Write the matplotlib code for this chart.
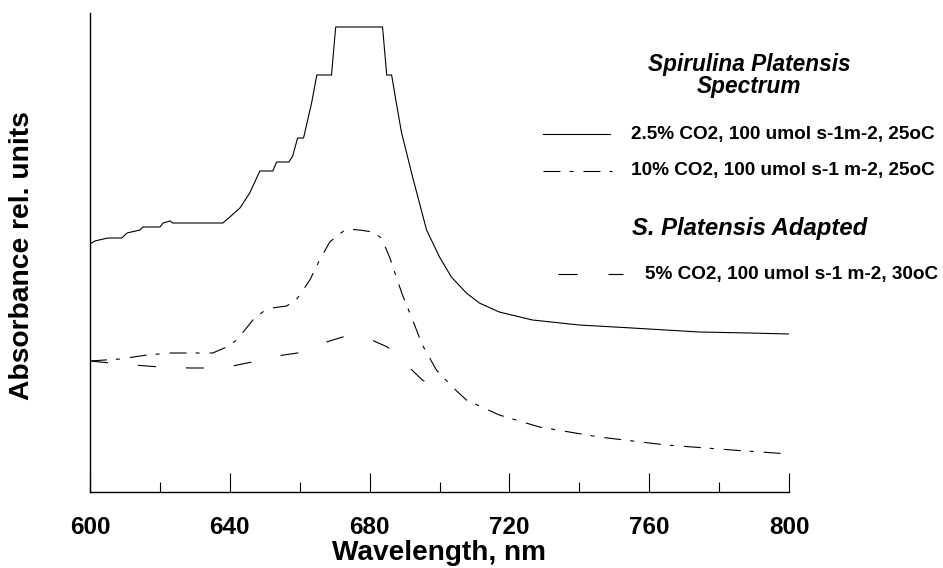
import matplotlib
matplotlib.use("Agg")
import matplotlib.pyplot as plt
from matplotlib.lines import Line2D
from matplotlib.ticker import MultipleLocator

plt.rcParams['font.family'] = ['Liberation Sans', 'DejaVu Sans']
plt.rcParams['font.weight'] = 'bold'
plt.rcParams['lines.scale_dashes'] = False

# 2.5% CO2 spectrum (solid)
wl_25 = [600.0, 601.4, 605.1, 609.1, 610.6, 614.3, 615.1, 620.0, 620.9, 622.9, 623.7,
         638.0, 640.0, 642.9, 645.7, 648.6, 652.3, 653.4, 656.9, 658.0, 659.4, 661.1,
         663.4, 664.9, 669.1, 670.3, 683.7, 684.9, 686.3, 687.7, 689.1, 692.3, 696.3,
         700.0, 703.4, 707.7, 711.4, 717.1, 726.6, 740.0, 755.1, 774.3, 788.6, 800.0]
abs_25 = [2.47, 2.50, 2.53, 2.53, 2.58, 2.61, 2.64, 2.64, 2.68, 2.70, 2.68,
          2.68, 2.74, 2.83, 2.98, 3.20, 3.20, 3.29, 3.29, 3.35, 3.53, 3.53,
          3.88, 4.16, 4.16, 4.64, 4.64, 4.16, 4.16, 3.87, 3.59, 3.14, 2.61,
          2.34, 2.14, 1.98, 1.88, 1.79, 1.71, 1.66, 1.63, 1.59, 1.58, 1.57]

# 10% CO2 spectrum (dash-dot)
wl_10 = [600.0, 608.6, 616.3, 622.9, 635.1, 639.1, 642.0, 646.6, 649.4, 652.0, 656.3,
         659.4, 662.9, 665.7, 668.6, 671.4, 673.4, 677.1, 680.9, 683.4, 685.7, 689.4,
         692.3, 695.1, 699.1, 703.7, 707.7, 717.1, 728.6, 745.7, 764.9, 783.7, 800.0]
abs_10 = [1.30, 1.32, 1.36, 1.38, 1.38, 1.44, 1.51, 1.71, 1.79, 1.83, 1.85,
          1.93, 2.11, 2.31, 2.49, 2.57, 2.62, 2.61, 2.59, 2.53, 2.34, 1.96,
          1.71, 1.46, 1.21, 1.04, 0.91, 0.76, 0.64, 0.54, 0.46, 0.41, 0.37]

# adapted 5% CO2 spectrum (dashed)
wl_5 = [600.0, 608.6, 620.0, 628.6, 638.0, 646.3, 651.4, 659.4, 664.9, 672.3, 678.0,
        680.6, 685.1, 689.1, 695.1, 699.4]
abs_5 = [1.30, 1.27, 1.24, 1.23, 1.23, 1.29, 1.34, 1.38, 1.46, 1.54, 1.54,
         1.51, 1.44, 1.31, 1.11, 1.03]

labels = ["2.5% CO2, 100 umol s-1m-2, 25oC",
          "10% CO2, 100 umol s-1 m-2, 25oC",
          "5% CO2, 100 umol s-1 m-2, 30oC"]

dashdot = [12.2, 6.5, 2.9, 7.2]
dashed = [13, 21.6]

fig = plt.figure(figsize=(9.43, 5.68), dpi=100)
ax = fig.add_axes([90/943, 1 - 492/568, 699/943, 479/568])

ax.plot(wl_25, abs_25, color='black', lw=0.8)
ax.plot(wl_10, abs_10, color='black', lw=0.8, dashes=dashdot)
ax.plot(wl_5, abs_5, color='black', lw=0.8, dashes=dashed)

ax.set_xlim(600, 800)
ax.set_ylim(-0.01, 4.78)
ax.spines['top'].set_visible(False)
ax.spines['right'].set_visible(False)
for s in ('left', 'bottom'):
    ax.spines[s].set_linewidth(1.0)
ax.set_yticks([])
ax.xaxis.set_major_locator(MultipleLocator(40))
ax.xaxis.set_minor_locator(MultipleLocator(20))
ax.tick_params(axis='x', which='major', direction='in', length=14, width=0.8,
               labelsize=17.5, pad=17)
ax.tick_params(axis='x', which='minor', direction='in', length=7.5, width=0.8)
ax.set_xlabel("Wavelength, nm", fontsize=20.2, fontweight='bold', labelpad=1)

fig.text(22/943, 1 - 256/568, "Absorbance rel. units", rotation=90,
         ha='center', va='center', fontsize=20.3, fontweight='bold')

# legend block drawn by hand in figure pixels
def fx(px):
    return px / 943

def fy(py):
    return 1 - py / 568

fig.text(fx(749), fy(65), "Spirulina Platensis", ha='center', va='center',
         fontsize=16.3, fontweight='bold', style='italic')
fig.text(fx(749), fy(87), "Spectrum", ha='center', va='center',
         fontsize=16.3, fontweight='bold', style='italic')
fig.text(fx(632), fy(228), "S. Platensis Adapted", ha='left', va='center',
         fontsize=17.2, fontweight='bold', style='italic')

fig.add_artist(Line2D([fx(543), fx(610)], [fy(134), fy(134)], color='black',
                      lw=0.8, transform=fig.transFigure))
fig.add_artist(Line2D([fx(543), fx(612)], [fy(171), fy(171)], color='black',
                      lw=0.8, dashes=dashdot, transform=fig.transFigure))
fig.add_artist(Line2D([fx(558), fx(623)], [fy(274), fy(274)], color='black',
                      lw=0.8, dashes=[13.7, 22.3], transform=fig.transFigure))

fig.text(fx(631), fy(134), labels[0], ha='left', va='center', fontsize=13.7,
         fontweight='bold')
fig.text(fx(631), fy(171), labels[1], ha='left', va='center', fontsize=13.7,
         fontweight='bold')
fig.text(fx(645), fy(274), labels[2], ha='left', va='center', fontsize=13.7,
         fontweight='bold')

fig.savefig("out.png", dpi=100)
